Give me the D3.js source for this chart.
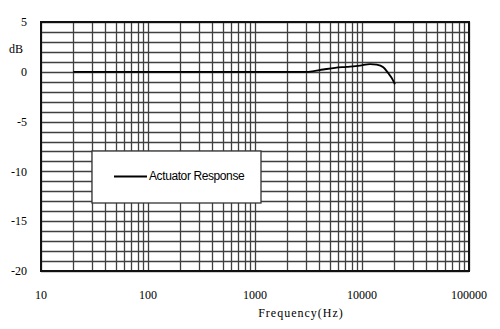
<!DOCTYPE html>
<html>
<head>
<meta charset="utf-8">
<script src="https://cdn.jsdelivr.net/npm/d3@7"></script>
<style>
  body { margin: 0; background: #fff; }
  .tick-label { font-family: "Liberation Serif", "DejaVu Serif", serif; font-size: 12px; fill: #000; }
  .legend-text { font-family: "Liberation Sans", Arial, sans-serif; font-size: 12px; fill: #000; letter-spacing: -0.4px; }
</style>
</head>
<body>
<div id="chart"></div>
<script>
// frequency response
const freqs = [20, 100, 1000, 3150, 4350, 5600, 7190, 9580, 11880, 13710, 15820, 17630, 18900, 20330];
const gains = [0, 0, 0, 0, 0.23, 0.4, 0.5, 0.63, 0.78, 0.72, 0.45, -0.15, -0.6, -1.25];

const xTicks = [10, 100, 1000, 10000, 100000];
const yTicks = [5, 0, -5, -10, -15, -20];
const seriesName = "Actuator Response";

const width = 500, height = 329;
const margin = { top: 22, right: 31, bottom: 58, left: 41 };
const w = width - margin.left - margin.right;
const h = height - margin.top - margin.bottom;

const svg = d3.select("#chart").append("svg")
  .attr("width", width)
  .attr("height", height);

const x = d3.scaleLog().domain([10, 100000]).range([margin.left, margin.left + w]);
const y = d3.scaleLinear().domain([-20, 5]).range([margin.top + h, margin.top]);

// vertical grid: 1..9 in every decade
const vLines = [];
for (let d = 10; d < 100000; d *= 10) {
  for (let k = 1; k <= 9; k++) vLines.push(d * k);
}
vLines.push(100000);

const grid = svg.append("g");
grid.selectAll(".vgrid")
  .data(vLines)
  .join("line")
  .attr("class", "vgrid")
  .attr("x1", d => Math.round(x(d)) + 0.5)
  .attr("x2", d => Math.round(x(d)) + 0.5)
  .attr("y1", y(5))
  .attr("y2", y(-20))
  .attr("stroke", "#3f3f3f")
  .attr("stroke-width", 1.3);

// horizontal grid every 1 dB
grid.selectAll(".hgrid")
  .data(d3.range(-20, 6, 1))
  .join("line")
  .attr("class", "hgrid")
  .attr("x1", x(10))
  .attr("x2", x(100000))
  .attr("y1", d => Math.round(y(d)) + 0.5)
  .attr("y2", d => Math.round(y(d)) + 0.5)
  .attr("stroke", "#3f3f3f")
  .attr("stroke-width", 1.3);

// plot border
svg.append("rect")
  .attr("x", x(10))
  .attr("y", y(5))
  .attr("width", w)
  .attr("height", h)
  .attr("fill", "none")
  .attr("stroke", "#111")
  .attr("stroke-width", 2);

// axis labels
svg.selectAll(".ylab")
  .data(yTicks)
  .join("text")
  .attr("class", "tick-label")
  .attr("x", 27)
  .attr("y", d => y(d))
  .attr("dy", "0.35em")
  .attr("text-anchor", "end")
  .text(d => d);

svg.append("text")
  .attr("class", "tick-label")
  .attr("x", 9)
  .attr("y", 49)
  .attr("dy", "0.35em")
  .text("dB");

svg.selectAll(".xlab")
  .data(xTicks)
  .join("text")
  .attr("class", "tick-label")
  .attr("x", d => x(d))
  .attr("y", 295)
  .attr("dy", "0.35em")
  .attr("text-anchor", "middle")
  .text(d => d);

svg.append("text")
  .attr("class", "tick-label")
  .attr("x", 301)
  .attr("y", 313)
  .attr("dy", "0.35em")
  .attr("text-anchor", "middle")
  .style("letter-spacing", "1px")
  .text("Frequency(Hz)");

// response curve
const line = d3.line()
  .x((d, i) => x(freqs[i]))
  .y(d => y(d))
  .curve(d3.curveMonotoneX);

svg.append("path")
  .datum(gains)
  .attr("d", line)
  .attr("fill", "none")
  .attr("stroke", "#000")
  .attr("stroke-width", 1.8);

// legend
const legend = svg.append("g");
legend.append("rect")
  .attr("x", 92)
  .attr("y", 151)
  .attr("width", 169)
  .attr("height", 52)
  .attr("fill", "#fff")
  .attr("stroke", "#333")
  .attr("stroke-width", 1.3);
legend.append("line")
  .attr("x1", 114)
  .attr("x2", 147)
  .attr("y1", 176.5)
  .attr("y2", 176.5)
  .attr("stroke", "#000")
  .attr("stroke-width", 1.8);
legend.append("text")
  .attr("class", "legend-text")
  .attr("x", 149)
  .attr("y", 176)
  .attr("dy", "0.35em")
  .text(seriesName);
</script>
</body>
</html>
